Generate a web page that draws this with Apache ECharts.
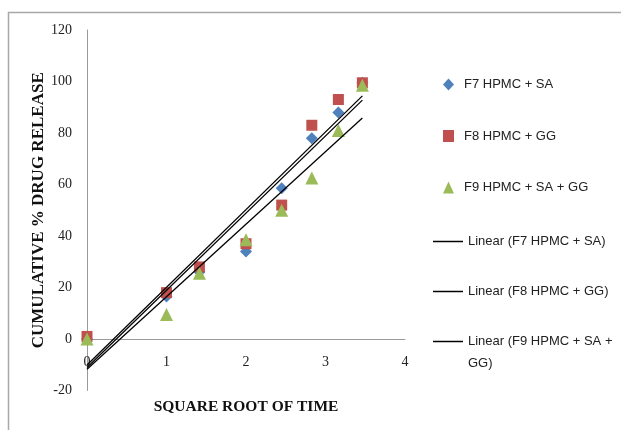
<!DOCTYPE html>
<html>
<head>
<meta charset="utf-8">
<script src="https://cdn.jsdelivr.net/npm/echarts@6/dist/echarts.min.js"></script>
<style>
  html, body { margin: 0; padding: 0; background: #fff; }
  #chart { width: 621px; height: 430px; }
</style>
</head>
<body>
<div id="chart"></div>
<script>
// square root of time (x values)
const sqrtTime = [0, 1, 1.414, 2, 2.449, 2.828, 3.162, 3.464]
// cumulative % drug release
const f7 = [0, 16.5, 26, 34, 58.5, 78, 88, 99.5]
const f8 = [1, 18, 28, 37, 52, 83, 93, 99.5]
const f9 = [0, 9.5, 25.5, 38.5, 50, 62.5, 81, 98.5]
const seriesNames = ['F7 HPMC + SA', 'F8 HPMC + GG', 'F9 HPMC + SA + GG']
const yTicks = [-20, 0, 20, 40, 60, 80, 100, 120]
const xTicks = [0, 1, 2, 3, 4]

// least squares trend line, drawn from first to last x
function trend(xs, ys) {
  const n = xs.length
  const mx = xs.reduce((a, b) => a + b, 0) / n
  const my = ys.reduce((a, b) => a + b, 0) / n
  let sxy = 0, sxx = 0
  for (let i = 0; i < n; i++) {
    sxy += (xs[i] - mx) * (ys[i] - my)
    sxx += (xs[i] - mx) * (xs[i] - mx)
  }
  const k = sxy / sxx
  const b = my - k * mx
  const x0 = Math.min(...xs), x1 = Math.max(...xs)
  return [[x0, k * x0 + b], [x1, k * x1 + b]]
}

const pairs = ys => sqrtTime.map((x, i) => [x, ys[i]])

const colors = ['#4f81bd', '#c0504d', '#9bbb59']
const symbols = ['diamond', 'rect', 'triangle']
const sizes = [12, 11, 13]
const allData = [f7, f8, f9]

const scatterSeries = allData.map((d, i) => ({
  type: 'scatter',
  name: seriesNames[i],
  data: pairs(d),
  symbol: symbols[i],
  symbolSize: sizes[i],
  itemStyle: { color: colors[i], opacity: 1 },
  z: 3
}))

const lineNames = seriesNames.map(n => 'Linear (' + n + ')')
const lineSeries = allData.map((d, i) => ({
  type: 'line',
  name: lineNames[i],
  data: trend(sqrtTime, d),
  symbol: 'none',
  lineStyle: { color: '#000', width: 1.3 },
  itemStyle: { color: '#000' },
  z: 4
}))

// grid geometry, x axis line sits at y = 0
const gridTop = 30, gridBottom = 39.5
const gridH = 430 - gridTop - gridBottom
const yMin = yTicks[0], yMax = yTicks[yTicks.length - 1]
const xAxisOffset = -gridH * (0 - yMin) / (yMax - yMin)

const legendText = { fontFamily: 'Liberation Sans', fontSize: 13, color: '#222' }

const chart = echarts.init(document.getElementById('chart'))
chart.setOption({
  animation: false,
  graphic: [
    {
      type: 'rect',
      shape: { x: 8.5, y: 12.5, width: 700, height: 500 },
      style: { fill: 'none', stroke: '#a8a8a8', lineWidth: 1.5 },
      z: -1
    },
    {
      // wrapped tail of the last legend label
      type: 'text',
      left: 468,
      top: 357,
      style: { text: 'GG)', font: '13px "Liberation Sans"', fill: '#222' }
    }
  ],
  grid: { left: 87, top: gridTop, right: 216, bottom: gridBottom, outerBoundsMode: 'none' },
  legend: [
    {
      data: seriesNames,
      orient: 'vertical',
      left: 438,
      top: 73,
      itemWidth: 11,
      itemHeight: 12,
      itemGap: 38.5,
      textStyle: Object.assign({ padding: [0, 0, 0, 5] }, legendText)
    },
    {
      data: lineNames,
      orient: 'vertical',
      left: 428,
      top: 230,
      icon: 'rect',
      itemWidth: 30,
      itemHeight: 1.5,
      itemGap: 37,
      textStyle: legendText,
      formatter: n => n === lineNames[2] ? 'Linear (F9 HPMC + SA +' : n
    }
  ],
  xAxis: {
    type: 'value',
    min: 0,
    max: 4,
    interval: 1,
    position: 'bottom',
    offset: xAxisOffset,
    name: 'SQUARE ROOT OF TIME',
    nameLocation: 'middle',
    nameGap: 60,
    nameMoveOverlap: false,
    nameTextStyle: { fontFamily: 'Liberation Serif', fontWeight: 'bold', fontSize: 15.5, color: '#111' },
    axisLine: { onZero: false, lineStyle: { color: '#9a9a9a', width: 1 } },
    axisTick: { show: false },
    splitLine: { show: false },
    axisLabel: { margin: 16, fontFamily: 'Liberation Serif', fontSize: 14, color: '#222',
      formatter: v => xTicks.includes(v) ? String(v) : '' }
  },
  yAxis: {
    type: 'value',
    min: yMin,
    max: yMax,
    interval: 20,
    name: 'CUMULATIVE % DRUG RELEASE',
    nameLocation: 'middle',
    nameGap: 40,
    nameMoveOverlap: false,
    nameTextStyle: { fontFamily: 'Liberation Serif', fontWeight: 'bold', fontSize: 17, color: '#111' },
    axisLine: { show: true, onZero: false, lineStyle: { color: '#9a9a9a', width: 1 } },
    axisTick: { show: false },
    splitLine: { show: false },
    axisLabel: { margin: 15, fontFamily: 'Liberation Serif', fontSize: 14, color: '#222',
      formatter: v => yTicks.includes(v) ? String(v) : '' }
  },
  series: [...scatterSeries, ...lineSeries]
})
</script>
</body>
</html>
